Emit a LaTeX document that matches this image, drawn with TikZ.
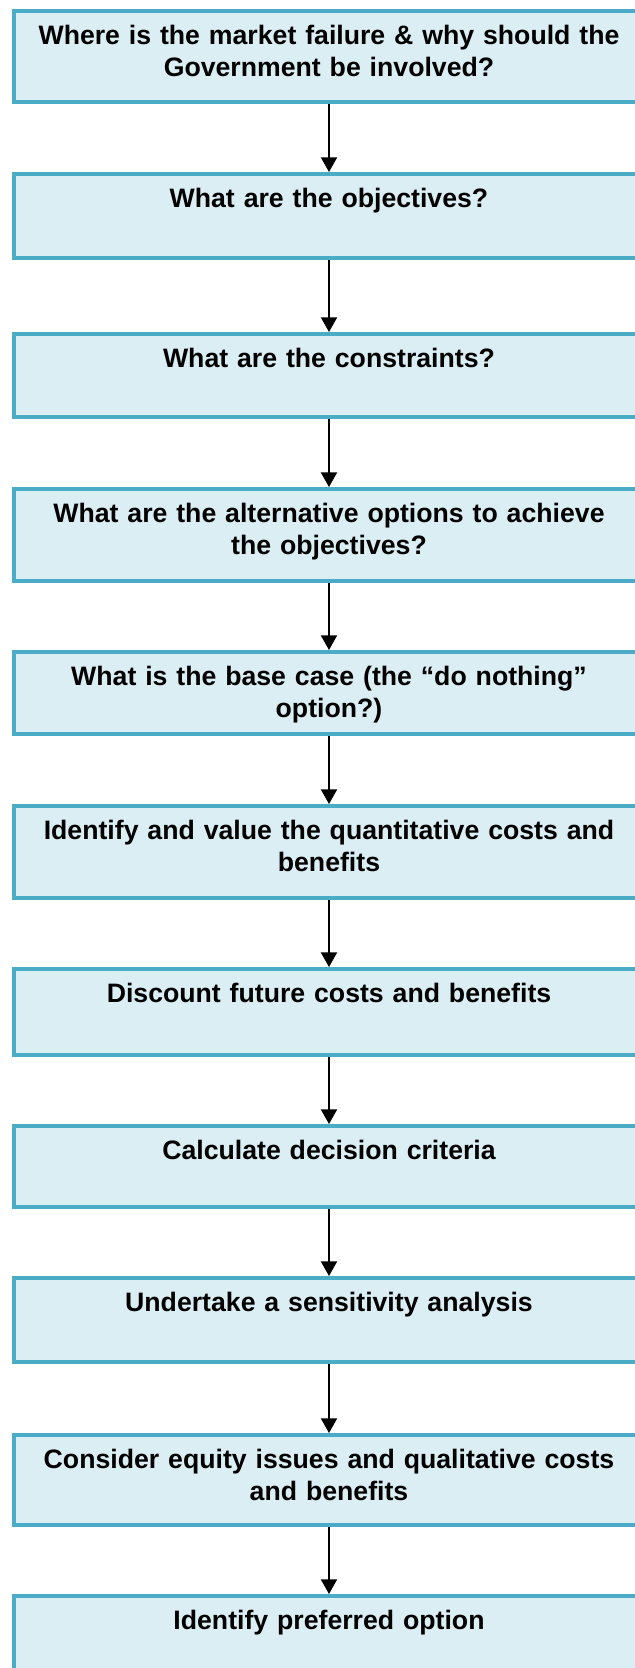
\documentclass[tikz,border=0pt]{standalone}
\usepackage{fontspec}
\setmainfont{Liberation Sans}
\usepackage{xcolor}
\usepackage{tikz}
\usetikzlibrary{arrows.meta}

\definecolor{stagefill}{RGB}{219,238,244}
\definecolor{stageline}{RGB}{75,172,198}

\begin{document}
\begin{tikzpicture}[x=0.75pt,y=-0.75pt,
	stagebox/.style={draw=stageline, fill=stagefill, line width=3pt, inner sep=0pt, minimum width=472.5pt, anchor=north},
	stagetext/.style={anchor=base, inner sep=0pt, text width=460pt, align=center, font=\bfseries\fontsize{20}{24}\selectfont},
	flow/.style={-{Triangle[width=12pt,length=11pt]}, line width=1.5pt}]
	\clip (0,0) rectangle (635,1668);

	% boxes: number / top edge / height / text
	\foreach \n/\ytop/\h/\txt in {
		1/7/95/{Where is the market failure \& why should the\\Government be involved?},
		2/170/88/{What are the objectives?},
		3/330/87/{What are the constraints?},
		4/485/96/{What are the alternative options to achieve\\the objectives?},
		5/648/86/{What is the base case (the “do nothing”\\option?)},
		6/802/96/{Identify and value the quantitative costs and\\benefits},
		7/965/90/{Discount future costs and benefits},
		8/1122/85/{Calculate decision criteria},
		9/1274/88/{Undertake a sensitivity analysis},
		10/1431/94/{Consider equity issues and qualitative costs\\and benefits},
		11/1592/90/{Identify preferred option}}
	{
		\node[stagebox, minimum height={(\h-4)*0.75pt}] (s\n) at (329,\ytop+2) {};
		\node[stagetext] (t\n) at (329,\ytop+37) {\txt};
	}

	\foreach \a/\b in {1/2, 2/3, 3/4, 4/5, 5/6, 6/7, 7/8, 8/9, 9/10, 10/11}
		\draw[flow] (s\a) -- (s\b);

\end{tikzpicture}
\end{document}
